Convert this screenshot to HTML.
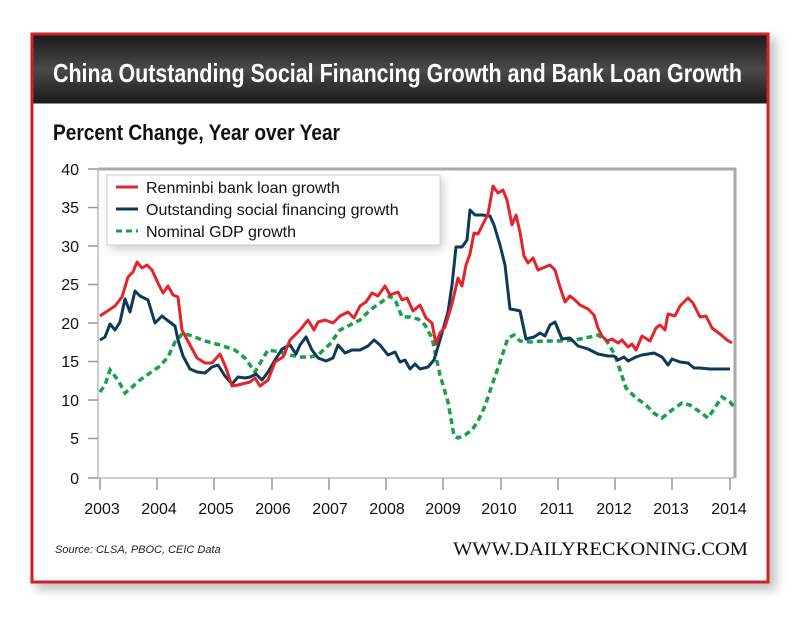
<!DOCTYPE html>
<html><head><meta charset="utf-8"><style>
body{margin:0;width:800px;height:614px;background:#fff;overflow:hidden;font-family:"Liberation Sans",sans-serif}
</style></head><body>
<svg width="800" height="614" xmlns="http://www.w3.org/2000/svg">
<defs>
<linearGradient id="tb" x1="0" y1="0" x2="0" y2="1">
<stop offset="0" stop-color="#1a1a1a"/><stop offset="0.5" stop-color="#4a4a4a"/><stop offset="1" stop-color="#1a1a1a"/></linearGradient>
<filter id="sh" x="-5%" y="-5%" width="115%" height="115%"><feGaussianBlur stdDeviation="5"/></filter>
</defs>
<rect x="36" y="38" width="740" height="552" fill="#999" opacity="0.6" filter="url(#sh)"/>
<rect x="32" y="34" width="736" height="548" fill="#fff" stroke="#d0202a" stroke-width="3"/>
<rect x="33.5" y="35.5" width="733" height="68" fill="url(#tb)"/>
<text x="53" y="82" fill="#fff" font-weight="bold" font-size="26" textLength="689" lengthAdjust="spacingAndGlyphs">China Outstanding Social Financing Growth and Bank Loan Growth</text>
<text x="53" y="140" fill="#111" font-weight="bold" font-size="22" textLength="287" lengthAdjust="spacingAndGlyphs">Percent Change, Year over Year</text>
<path d="M98 169 H735 V478" fill="none" stroke="#aaa" stroke-width="3"/>
<path d="M98 169 V478 H735" fill="none" stroke="#bbb" stroke-width="1.5"/>
<g stroke="#999" stroke-width="1.5">
<line x1="88" y1="169" x2="98" y2="169"/><line x1="88" y1="207.5" x2="98" y2="207.5"/><line x1="88" y1="246" x2="98" y2="246"/><line x1="88" y1="284.5" x2="98" y2="284.5"/><line x1="88" y1="323" x2="98" y2="323"/><line x1="88" y1="361.5" x2="98" y2="361.5"/><line x1="88" y1="400" x2="98" y2="400"/><line x1="88" y1="438.5" x2="98" y2="438.5"/><line x1="88" y1="478" x2="98" y2="478"/>
<line x1="100" y1="478" x2="100" y2="490"/><line x1="157" y1="478" x2="157" y2="490"/><line x1="214" y1="478" x2="214" y2="490"/><line x1="272" y1="478" x2="272" y2="490"/><line x1="329" y1="478" x2="329" y2="490"/><line x1="386" y1="478" x2="386" y2="490"/><line x1="443" y1="478" x2="443" y2="490"/><line x1="501" y1="478" x2="501" y2="490"/><line x1="558" y1="478" x2="558" y2="490"/><line x1="615" y1="478" x2="615" y2="490"/><line x1="672" y1="478" x2="672" y2="490"/><line x1="730" y1="478" x2="730" y2="490"/>
</g>
<g font-size="16" fill="#111" text-anchor="end">
<text x="79" y="175">40</text><text x="79" y="213">35</text><text x="79" y="252">30</text><text x="79" y="290">25</text><text x="79" y="329">20</text><text x="79" y="367">15</text><text x="79" y="406">10</text><text x="79" y="444">5</text><text x="79" y="484">0</text>
</g>
<g font-size="16" fill="#111" text-anchor="middle">
<text x="102" y="514">2003</text><text x="159" y="514">2004</text><text x="216" y="514">2005</text><text x="273" y="514">2006</text><text x="330" y="514">2007</text><text x="387" y="514">2008</text><text x="443" y="514">2009</text><text x="499" y="514">2010</text><text x="557" y="514">2011</text><text x="614" y="514">2012</text><text x="671" y="514">2013</text><text x="729" y="514">2014</text>
</g>
<polyline fill="none" stroke="#1aa04a" stroke-width="3.5" stroke-dasharray="6,4" points="100,392 105,385 110,370 118,380 125,393 130,389 140,380 150,373 160,366 168,357 175,342 183,333 192,336 205,341 220,345 235,350 245,358 255,372 262,360 268,350 280,352 290,355 300,357 310,357 318,355 330,344 340,330 350,325 360,320 370,310 380,303 390,296 396,302 402,317 410,317 418,319 425,325 432,338 440,375 448,402 454,436 458,438 465,435 472,430 478,421 485,406 492,385 500,362 508,338 514,335 520,341 530,342 545,341 560,341 575,340 590,337 598,335 606,340 615,355 626,388 636,398 645,404 655,414 662,418 672,410 682,403 690,405 700,412 708,418 716,406 722,397 730,402 735,408"/>
<polyline fill="none" stroke="#0f3a57" stroke-width="3" stroke-linejoin="round" points="100,340 105,337 110,324 115,330 120,322 125,299 130,312 135,291 140,296 148,300 155,323 162,316 167,320 175,326 178,340 183,356 190,369 197,372 205,373 212,367 218,365 225,376 232,384 238,377 245,378 250,377 256,374 262,380 268,372 275,360 282,349 290,345 296,354 300,345 306,337 312,350 318,358 326,361 333,358 338,345 345,353 352,350 360,350 368,346 374,340 380,345 388,355 395,352 400,362 405,360 410,369 415,364 420,369 428,367 434,360 440,340 448,312 452,285 456,247 462,247 467,240 470,210 475,215 482,215 490,216 494,225 500,245 505,265 510,309 516,310 520,311 526,339 534,337 540,333 545,336 550,325 555,322 562,339 570,338 578,346 588,349 598,354 608,356 614,356 618,360 624,357 628,361 636,357 642,355 654,353 662,357 668,365 672,359 680,362 688,363 694,368 700,368 710,369 730,369"/>
<polyline fill="none" stroke="#e2242c" stroke-width="3" stroke-linejoin="round" points="100,316 115,306 122,297 128,277 133,272 137,262 142,268 147,265 152,270 158,283 163,293 168,286 173,295 178,297 182,330 190,345 197,358 205,363 212,363 220,354 226,368 232,386 238,385 250,382 255,378 260,386 268,380 275,362 283,357 290,340 300,330 308,320 314,330 318,322 325,320 333,323 340,316 348,312 354,318 360,306 366,302 372,293 378,296 385,286 390,295 398,292 402,300 407,298 413,311 420,305 426,318 432,323 436,344 440,333 445,327 452,304 458,278 462,286 466,265 470,254 474,233 478,234 484,222 488,214 493,186 498,193 503,190 507,200 512,225 516,215 520,232 524,256 528,263 533,258 538,270 545,267 550,265 555,270 560,287 565,302 570,296 575,300 580,305 588,309 594,315 598,328 602,336 607,341 612,339 618,343 622,340 628,347 632,344 636,350 642,336 650,341 656,328 660,325 665,330 668,314 675,316 680,306 688,298 693,303 700,317 706,316 712,328 720,334 727,340 732,343"/>
<rect x="110" y="178" width="333" height="71" fill="#999" opacity="0.5" filter="url(#sh)"/>
<rect x="107" y="175" width="333" height="70" fill="#fff" stroke="#ccc" stroke-width="1"/>
<line x1="116" y1="187" x2="138" y2="187" stroke="#e2242c" stroke-width="3"/>
<line x1="116" y1="209" x2="138" y2="209" stroke="#0f3a57" stroke-width="3"/>
<line x1="116" y1="231" x2="138" y2="231" stroke="#1aa04a" stroke-width="3" stroke-dasharray="6,4"/>
<g font-size="16" fill="#111">
<text x="146" y="193">Renminbi bank loan growth</text>
<text x="146" y="215">Outstanding social financing growth</text>
<text x="146" y="237">Nominal GDP growth</text>
</g>
<text x="55" y="553" font-size="11" font-style="italic" fill="#222">Source:  CLSA, PBOC, CEIC Data</text>
<text x="453" y="555" font-family="Liberation Serif,serif" font-size="19" fill="#111" textLength="295" lengthAdjust="spacingAndGlyphs">WWW.DAILYRECKONING.COM</text>
</svg>
</body></html>
